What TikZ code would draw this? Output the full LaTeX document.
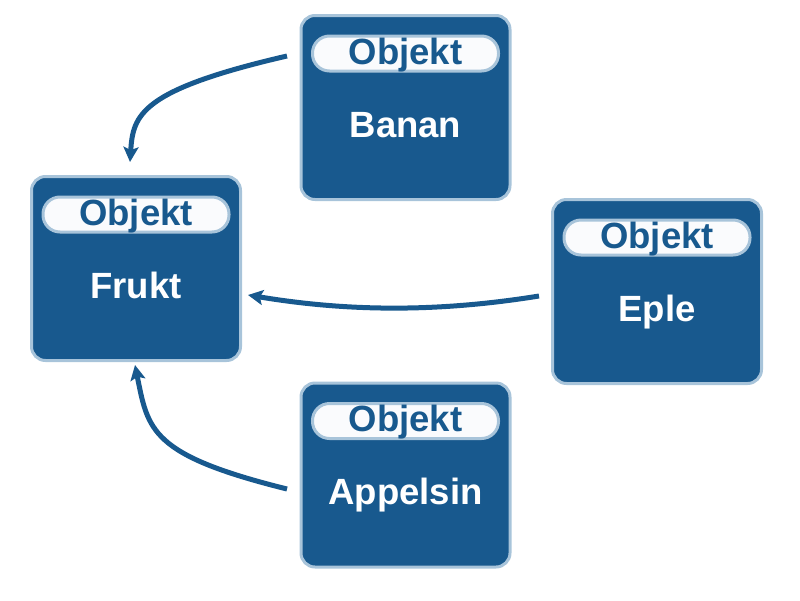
\documentclass[tikz,border=0pt]{standalone}
\usepackage{fontspec}
\setmainfont{Liberation Sans}
\usetikzlibrary{arrows.meta,calc}
\definecolor{dblue}{RGB}{24,89,142}
\definecolor{lblue}{RGB}{168,196,218}
\definecolor{pillfill}{RGB}{250,251,253}
\newcommand\fruitbox[4]{%
  \node[objbox] (#1) at (#2,#3) {};
  \node[pillbox] (#1pill) at ($(#1.center)+(0,54)$) {};
  \node[pilltext] (#1obj) at ($(#1.center)+(0,43.5)$) {Objekt};
  \node[nametext] (#1name) at ($(#1.center)+(0,-29.5)$) {#4};
}
\begin{document}
\begin{tikzpicture}[x=1pt,y=1pt,
  objbox/.style={draw=lblue, line width=3pt, fill=dblue, rounded corners=14pt,
    minimum width=209pt, minimum height=184pt, inner sep=0pt},
  pillbox/.style={draw=lblue, line width=3pt, fill=pillfill, rounded corners=17pt,
    minimum width=186pt, minimum height=35pt, inner sep=0pt},
  pilltext/.style={text=dblue, font=\fontsize{36.5}{36.5}\selectfont\bfseries, anchor=base, inner sep=0pt},
  nametext/.style={text=white, font=\fontsize{36.5}{36.5}\selectfont\bfseries, anchor=base, inner sep=0pt},
  conn/.style={draw=dblue, line width=5pt, -{Stealth[length=15pt,width=15pt,inset=3pt]}}
]
\useasboundingbox (0,0) rectangle (800,-600);
\fruitbox{frukt}{136}{-268.5}{Frukt}
\fruitbox{banan}{405.5}{-107.5}{Banan}
\fruitbox{eple}{657}{-291.5}{Eple}
\fruitbox{appelsin}{405.5}{-475}{Appelsin}
\coordinate (bananout) at ($(banan.center)+(-118.5,51.5)$);
\coordinate (fruktinb) at ($(frukt.center)+(-6,106.5)$);
\coordinate (epleout) at ($(eple.center)+(-118,-4.5)$);
\coordinate (fruktine) at ($(frukt.center)+(112,-26.5)$);
\coordinate (appelsinout) at ($(appelsin.center)+(-118.5,-14)$);
\coordinate (fruktina) at ($(frukt.center)+(-1,-96.5)$);
\draw[conn] (bananout) .. controls (140,-90) and (133,-115) .. (fruktinb);
\draw[conn] (epleout) .. controls (440,-312) and (350,-312) .. (fruktine);
\draw[conn] (appelsinout) .. controls (150,-455) and (148,-430) .. (fruktina);
\end{tikzpicture}
\end{document}
